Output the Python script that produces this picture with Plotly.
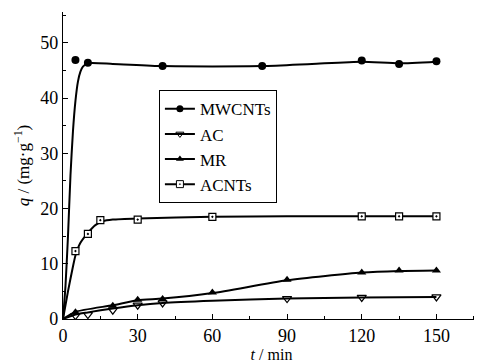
import plotly.graph_objects as go

# Marker data (t in min, q in mg/g)
t_mw = [5, 10, 40, 80, 120, 135, 150]
q_mw = [46.9, 46.4, 45.8, 45.8, 46.8, 46.2, 46.7]
t_ac = [5, 10, 20, 30, 40, 90, 120, 150]
q_ac = [0.6, 0.8, 1.6, 2.5, 2.9, 3.7, 3.9, 4.0]
t_mr = [5, 20, 30, 40, 60, 90, 120, 135, 150]
q_mr = [1.2, 2.4, 3.5, 3.6, 4.8, 7.1, 8.4, 8.8, 8.8]
t_acn = [5, 10, 15, 30, 60, 120, 135, 150]
q_acn = [12.3, 15.4, 17.9, 18.0, 18.5, 18.6, 18.6, 18.6]

# Fitted curves
ct_mw = [0, 1, 2, 3, 4, 5, 6, 7, 8, 10, 20, 40, 80, 100, 120, 135, 150]
cq_mw = [0, 6, 15, 26, 34, 39.5, 43, 44.8, 45.7, 46.3, 46.2, 45.8, 45.8, 46.2, 46.6, 46.3, 46.6]
ct_ac = [0, 5, 10, 20, 30, 40, 60, 90, 120, 150]
cq_ac = [0, 0.8, 1.2, 1.9, 2.5, 2.9, 3.3, 3.7, 3.9, 4.0]
ct_mr = [0, 5, 20, 30, 40, 60, 90, 120, 135, 150]
cq_mr = [0, 1.3, 2.5, 3.4, 3.7, 4.7, 7.0, 8.4, 8.7, 8.8]
ct_acn = [0, 2, 4, 5, 7, 10, 13, 16, 20, 30, 60, 90, 150]
cq_acn = [0, 5, 9.5, 11.5, 13.8, 15.6, 17.0, 17.7, 18.0, 18.2, 18.5, 18.6, 18.6]

x_ticks = [0, 30, 60, 90, 120, 150]
y_ticks = [0, 10, 20, 30, 40, 50]

FONT = "Liberation Serif, Times New Roman, serif"
BLACK = "black"

fig = go.Figure()

series = [
    ("MWCNTs", ct_mw, cq_mw, t_mw, q_mw, dict(symbol="circle", size=8, color=BLACK)),
    ("AC", ct_ac, cq_ac, t_ac, q_ac, dict(symbol="triangle-down-open", size=8, color=BLACK, line=dict(width=1.2, color=BLACK))),
    ("MR", ct_mr, cq_mr, t_mr, q_mr, dict(symbol="triangle-up", size=8, color=BLACK)),
    ("ACNTs", ct_acn, cq_acn, t_acn, q_acn, dict(symbol="square-dot", size=7, color="white", line=dict(width=1.2, color=BLACK))),
]

for name, ct, cq, t, q, mk in series:
    fig.add_trace(go.Scatter(x=ct, y=cq, mode="lines", line=dict(color=BLACK, width=2, shape="spline", smoothing=0.6),
                             showlegend=False, hoverinfo="skip"))
    fig.add_trace(go.Scatter(x=t, y=q, mode="markers", marker=mk, showlegend=False, name=name))

for name, ct, cq, t, q, mk in series:
    mk2 = dict(mk)
    mk2["size"] = 7
    if "line" in mk2:
        mk2["line"] = dict(width=1, color=BLACK)
    fig.add_trace(go.Scatter(x=[None], y=[None], mode="lines+markers", name=name,
                             line=dict(color=BLACK, width=2), marker=mk2))

fig.update_layout(
    width=474, height=355,
    margin=dict(l=55, r=2, t=4, b=42),
    paper_bgcolor="white", plot_bgcolor="white",
    font=dict(family=FONT, size=16, color=BLACK),
    legend=dict(x=0.23, y=0.745, xanchor="left", yanchor="top",
                bordercolor=BLACK, borderwidth=1, bgcolor="white",
                font=dict(family=FONT, size=17), tracegroupgap=0,
                itemwidth=30),
    showlegend=True,
)

fig.update_xaxes(range=[0, 167.5], tickvals=x_ticks, ticktext=[str(v) for v in x_ticks],
                 ticks="inside", ticklen=5, tickwidth=1.2, tickcolor=BLACK,
                 minor=dict(dtick=15, ticks="inside", ticklen=3, tickcolor=BLACK, tickwidth=1.2),
                 showline=True, linecolor=BLACK, linewidth=1.2, showgrid=False, zeroline=False,
                 tickfont=dict(family=FONT, size=18),
                 title=dict(text="<i>t</i> / min", font=dict(family=FONT, size=16), standoff=4))
fig.update_yaxes(range=[0, 55.6], tickvals=y_ticks, ticktext=[str(v) for v in y_ticks],
                 ticks="inside", ticklen=5, tickwidth=1.2, tickcolor=BLACK,
                 minor=dict(dtick=5, ticks="inside", ticklen=3, tickcolor=BLACK, tickwidth=1.2),
                 showline=True, linecolor=BLACK, linewidth=1.2, showgrid=False, zeroline=False,
                 tickfont=dict(family=FONT, size=18),
                 title=dict(text="<i>q</i> / (mg·g<sup>−1</sup>)", font=dict(family=FONT, size=17), standoff=6))

fig.write_html("out.html")
